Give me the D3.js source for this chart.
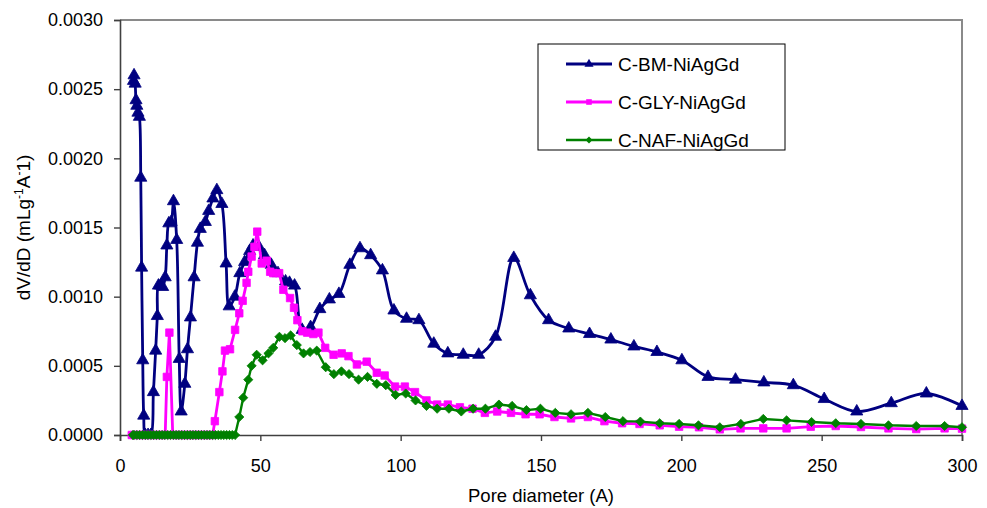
<!DOCTYPE html>
<html>
<head>
<meta charset="utf-8">
<script src="https://cdn.jsdelivr.net/npm/d3@7"></script>
<style>
  html, body { margin: 0; padding: 0; background: #fff; }
  svg { display: block; font-family: "Liberation Sans", Arial, sans-serif; }
</style>
</head>
<body>
<svg id="chart" width="987" height="508"></svg>
<script>
// Pore size distribution, dV/dD against pore diameter (A)

const xTicks = [0, 50, 100, 150, 200, 250, 300];
const yTicks = [0, 0.0005, 0.001, 0.0015, 0.002, 0.0025, 0.003];

const seriesNames = ["C-BM-NiAgGd", "C-GLY-NiAgGd", "C-NAF-NiAgGd"];

// [pore diameter, dV/dD]
const bmData = [
  [4.8, 0.00256], [5.0, 0.00260], [5.4, 0.00254], [5.7, 0.00242], [6.0, 0.00238],
  [6.4, 0.00233], [6.9, 0.00230], [7.4, 0.00186], [7.7, 0.00121], [8.1, 0.00054],
  [8.45, 0.00014], [9.0, 0], [10.0, 0], [11.0, 0], [11.9, 0.00031],
  [12.7, 0.00061], [13.3, 0.00086], [13.7, 0.00108], [14.5, 0.00108], [15.2, 0.00107],
  [16.1, 0.00114], [16.7, 0.00137], [17.4, 0.00153], [18.2, 0.00154], [19.05, 0.00169],
  [20.2, 0.00141], [21.1, 0.00055], [21.8, 0.00017], [23.1, 0.00037], [24.05, 0.00062],
  [25.1, 0.00085], [26.4, 0.00114], [27.6, 0.00139], [28.6, 0.00149], [30.4, 0.00154],
  [31.6, 0.00162], [33.1, 0.00171], [34.5, 0.00177], [36.3, 0.00167], [37.8, 0.00124],
  [38.9, 0.00093], [40.9, 0.00100], [42.7, 0.00117], [44.4, 0.00125], [46.2, 0.00133],
  [47.4, 0.00137], [49.5, 0.00136], [51.5, 0.00130], [53.9, 0.00123], [56.3, 0.00117],
  [59.0, 0.00111], [60.4, 0.00110], [62.2, 0.00108], [64.9, 0.00076], [67.9, 0.00078],
  [71.2, 0.00091], [74.6, 0.00098], [78.0, 0.00102], [81.9, 0.00123], [85.5, 0.00135],
  [89.3, 0.00130], [93.5, 0.00119], [97.6, 0.00090], [102.1, 0.00084], [106.5, 0.00083],
  [111.8, 0.00066], [116.8, 0.00059], [122.3, 0.00058], [127.8, 0.00058], [133.8, 0.00071],
  [140.3, 0.00128], [146.2, 0.00101], [152.7, 0.00083], [159.9, 0.00077], [167.3, 0.00073],
  [174.9, 0.00069], [183.1, 0.00064], [191.3, 0.00060], [200.2, 0.00054], [209.5, 0.00042],
  [219.3, 0.00040], [229.4, 0.00038], [239.9, 0.00036], [250.9, 0.00026], [262.5, 0.00017],
  [274.8, 0.00023], [287.3, 0.00030], [300, 0.00021]
];

const glyData = [
  [4.2, 0], [5, 0], [6, 0], [7, 0], [8, 0], [9, 0], [10, 0], [11, 0], [12, 0],
  [13, 0], [14, 0], [15, 0], [16.1, 0], [16.7, 0.00042], [17.6, 0.00074], [18.8, 0],
  [20, 0], [21, 0], [22, 0], [23, 0], [24, 0], [25, 0], [26, 0], [27, 0], [28, 0],
  [29, 0], [30, 0], [31, 0], [32, 0], [33, 0],
  [33.8, 0.00010], [35.4, 0.00031], [36.5, 0.00046], [37.4, 0.00061], [39.2, 0.00062],
  [41.0, 0.00076], [42.5, 0.00088], [43.7, 0.00097], [45.1, 0.00110], [45.7, 0.00118],
  [46.9, 0.00129], [47.9, 0.00136], [48.9, 0.00147], [50.5, 0.00124], [52.3, 0.00126],
  [53.5, 0.00118], [54.6, 0.00117], [56.7, 0.00117], [58.2, 0.00105], [60.6, 0.00099],
  [62.0, 0.00092], [63.2, 0.00083], [65.0, 0.00075], [66.7, 0.00074], [68.9, 0.00073],
  [70.7, 0.00074], [73.1, 0.00063], [76.1, 0.00058], [79.0, 0.00059], [81.4, 0.00057],
  [84.4, 0.00051], [87.9, 0.00053], [91.5, 0.00045], [94.3, 0.00043], [98.0, 0.00035],
  [101.5, 0.00035], [105.1, 0.00031], [109.2, 0.00025], [113.0, 0.00022], [116.8, 0.00022],
  [121.1, 0.00020], [125.6, 0.00019], [130.0, 0.00016], [134.4, 0.00017], [139.3, 0.00016],
  [144.5, 0.00015], [149.5, 0.00015], [154.8, 0.00013], [160.7, 0.00012], [166.7, 0.00013],
  [172.6, 0.00010], [178.9, 0.000085], [185.1, 0.00008], [192.3, 0.00007], [199.2, 0.00006],
  [206.3, 0.000056], [213.7, 0.000041], [221.1, 0.000048], [229.2, 0.000048], [237.5, 0.000048],
  [246.1, 0.00006], [255, 0.000065], [264, 0.000058], [273.8, 0.000048], [283.7, 0.000043],
  [293.8, 0.000048], [300, 0.000046]
];

const nafData = [
  [4.6, 0], [5, 0], [6, 0], [7, 0], [8, 0], [9, 0], [10, 0], [11, 0], [12, 0], [13, 0],
  [14, 0], [15, 0], [16, 0], [17, 0], [18, 0], [19, 0], [20, 0], [21, 0], [22, 0], [23, 0],
  [24, 0], [25, 0], [26, 0], [27, 0], [28, 0], [29, 0], [30, 0], [31, 0], [32, 0], [33, 0],
  [34, 0], [35, 0], [36, 0], [37, 0], [38, 0], [39, 0], [40, 0], [41, 0],
  [42.5, 0.00013], [43.9, 0.00027], [45.7, 0.00040], [46.9, 0.00050], [48.7, 0.00058],
  [50.8, 0.00054], [52.9, 0.00059], [54.6, 0.00063], [56.8, 0.00071], [58.8, 0.00070],
  [60.8, 0.00072], [63.0, 0.00065], [65.4, 0.00059], [67.7, 0.00060], [70.1, 0.00061],
  [73.3, 0.00049], [76.2, 0.00044], [78.9, 0.00046], [81.6, 0.00044], [85.0, 0.00040],
  [88.2, 0.00042], [91.5, 0.00037], [94.7, 0.00036], [98.2, 0.00029], [101.8, 0.00030],
  [105.3, 0.00025], [109.2, 0.00021], [113.0, 0.00019], [117.2, 0.00019], [121.6, 0.00017],
  [125.8, 0.00019], [130.2, 0.00019], [135.0, 0.00022], [139.7, 0.00021], [144.8, 0.00018],
  [149.8, 0.00019], [155.1, 0.00016], [160.7, 0.00015], [166.7, 0.00016], [172.9, 0.00013],
  [179.2, 0.00010], [185.4, 0.000097], [192.3, 0.000085], [199.2, 0.00008], [206.1, 0.00007],
  [213.7, 0.000056], [221.2, 0.00008], [229.2, 0.000116], [237.5, 0.000106], [246.4, 0.000094],
  [255, 0.000085], [264, 0.00008], [273.8, 0.00007], [283.7, 0.000065], [293.8, 0.000065],
  [300, 0.000056]
];

const series = [
  { name: seriesNames[0], data: bmData, color: "#000080", marker: "triangle", smooth: true, width: 2.8 },
  { name: seriesNames[1], data: glyData, color: "#ff00ff", marker: "square", smooth: false, width: 2.8 },
  { name: seriesNames[2], data: nafData, color: "#008000", marker: "diamond", smooth: false, width: 2.4 },
];

const plot = { left: 120, top: 20, right: 962, bottom: 435 };

function markerPath(kind, scale) {
  const s = scale || 1;
  if (kind === "triangle") return d3.symbol(d3.symbolTriangle, 64 * s * s)();
  if (kind === "square") return d3.symbol(d3.symbolSquare, 56 * s * s)();
  // diamond = square turned 45 degrees
  const h = 4.6 * s;
  return `M0,${-h}L${h},0L0,${h}L${-h},0Z`;
}

function renderChart() {
  const svg = d3.select("#chart");

  const x = d3.scaleLinear().domain([0, 300]).range([plot.left, plot.right]);
  const y = d3.scaleLinear().domain([0, 0.003]).range([plot.bottom, plot.top]);

  // plot area border (top / right)
  svg.append("path")
    .attr("d", `M${plot.left},${plot.top}H${plot.right}V${plot.bottom}`)
    .attr("fill", "none")
    .attr("stroke", "#8a8a8a")
    .attr("stroke-width", 2);

  const xAxis = svg.append("g")
    .attr("transform", `translate(0,${plot.bottom})`)
    .call(d3.axisBottom(x).tickValues(xTicks).tickSize(6).tickPadding(18).tickFormat(d3.format("d")));

  const yAxis = svg.append("g")
    .attr("transform", `translate(${plot.left},0)`)
    .call(d3.axisLeft(y).tickValues(yTicks).tickSize(6).tickPadding(11).tickFormat(d3.format(".4f")));

  [xAxis, yAxis].forEach((g) => {
    g.select(".domain").attr("stroke", "#404040").attr("stroke-width", 1.6);
    g.selectAll(".tick line").attr("stroke", "#404040").attr("stroke-width", 1.4);
    g.selectAll(".tick text")
      .attr("fill", "#000")
      .attr("font-size", 18)
      .attr("font-family", "Liberation Sans, Arial, sans-serif");
  });

  // axis titles
  svg.append("text")
    .attr("x", (plot.left + plot.right) / 2)
    .attr("y", 502)
    .attr("text-anchor", "middle")
    .attr("font-size", 18.5)
    .text("Pore diameter (A)");

  const yTitle = svg.append("text")
    .attr("transform", `translate(30,${(plot.top + plot.bottom) / 2}) rotate(-90)`)
    .attr("text-anchor", "middle")
    .attr("font-size", 19);
  yTitle.append("tspan").text("dV/dD (mLg");
  yTitle.append("tspan").attr("font-size", 12).attr("dy", -7).text("-1");
  yTitle.append("tspan").attr("dy", 7).text("A");
  yTitle.append("tspan").attr("font-size", 12).attr("dy", -7).text("-");
  yTitle.append("tspan").attr("dy", 7).text("1)");

  // series: line then markers, drawn in order so green ends up on top
  series.forEach((s) => {
    const line = d3.line()
      .x((d) => x(d[0]))
      .y((d) => y(d[1]))
      .curve(s.smooth ? d3.curveCatmullRom.alpha(0.5) : d3.curveLinear);

    const g = svg.append("g").attr("class", "series");
    g.append("path")
      .datum(s.data)
      .attr("d", line)
      .attr("fill", "none")
      .attr("stroke", s.color)
      .attr("stroke-width", s.width)
      .attr("stroke-linejoin", "round");

    g.selectAll("path.marker")
      .data(s.data)
      .enter()
      .append("path")
      .attr("class", "marker")
      .attr("d", markerPath(s.marker))
      .attr("transform", (d) => `translate(${x(d[0])},${y(d[1])})`)
      .attr("fill", s.color)
      .attr("stroke", s.color)
      .attr("stroke-width", 0.8);
  });

  // legend
  const legend = svg.append("g").attr("transform", "translate(538,44)");
  legend.append("rect")
    .attr("width", 247)
    .attr("height", 106)
    .attr("fill", "#fff")
    .attr("stroke", "#000")
    .attr("stroke-width", 1);

  series.forEach((s, i) => {
    const cy = 20 + i * 38;
    legend.append("line")
      .attr("x1", 28).attr("x2", 74)
      .attr("y1", cy).attr("y2", cy)
      .attr("stroke", s.color)
      .attr("stroke-width", s.width);
    legend.append("path")
      .attr("d", markerPath(s.marker, 0.75))
      .attr("transform", `translate(51,${cy})`)
      .attr("fill", s.color);
    legend.append("text")
      .attr("x", 80)
      .attr("y", cy)
      .attr("dy", "0.36em")
      .attr("font-size", 19)
      .text(s.name);
  });
}

renderChart();
</script>
</body>
</html>
